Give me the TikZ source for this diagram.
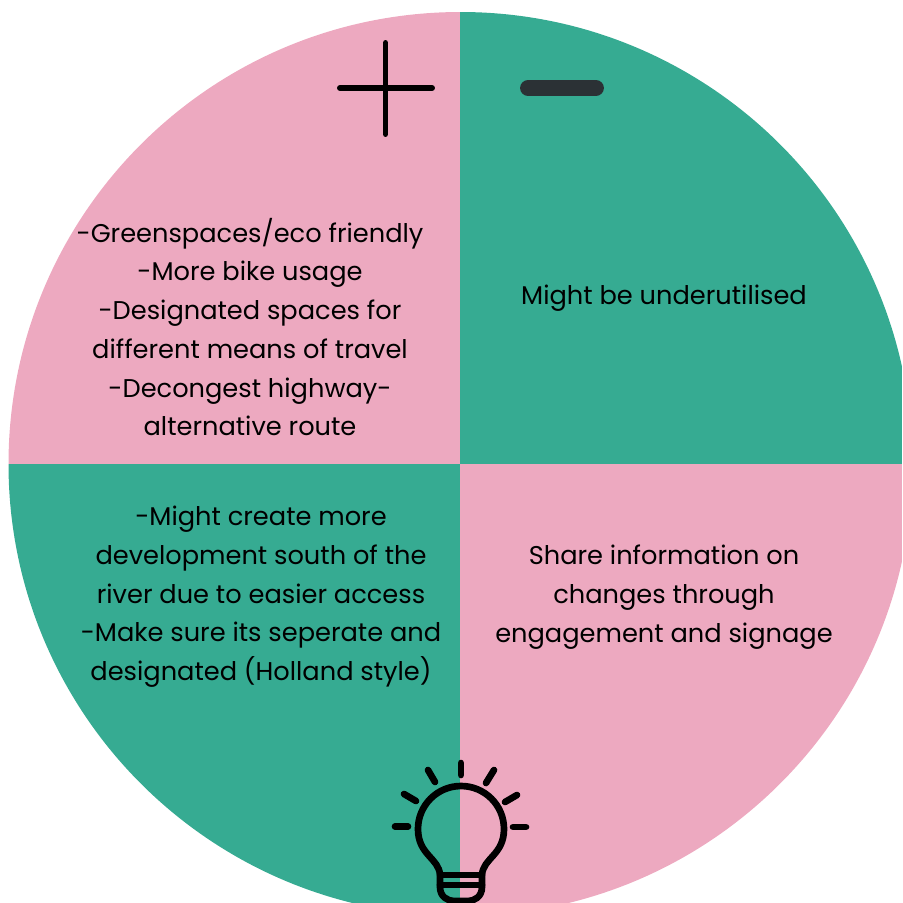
\documentclass[tikz,border=0pt]{standalone}
\usepackage{fontspec}
\setmainfont{Poppins}
\definecolor{pinkq}{HTML}{EDA9C0}
\definecolor{greenq}{HTML}{36AB92}
\definecolor{darkbar}{HTML}{2B3135}
\tikzset{
    note/.style={align=center, text=black, inner sep=0pt, font=\fontsize{7.3pt}{11pt}\selectfont},
    icon/.style={line width=1.7pt, line cap=round, line join=round, black},
    bulbline/.style={line width=1.9pt, line cap=round, line join=round, black}
}
\begin{document}
\begin{tikzpicture}[x=0.01cm, y=-0.01cm]
    \useasboundingbox (0, 0) rectangle (902, 903);
    \begin{scope}
        \clip (0, 0) rectangle (902, 903);
        \clip (460.5, 464) circle [radius=452];
        \fill[pinkq] (0, 0) rectangle (460, 464);
        \fill[greenq] (460, 0) rectangle (902, 464);
        \fill[greenq] (0, 464) rectangle (460, 903);
        \fill[pinkq] (460, 464) rectangle (902, 903);
    \end{scope}
    % plus and minus
    \draw[icon] (385.5, 43)--(385.5, 134);
    \draw[icon] (340, 88)--(432, 88);
    \draw[darkbar, line width=4.5pt, line cap=round] (528, 88)--(596, 88);
    % notes
    \node[note] (pros) at (250, 327) {-Greenspaces/eco friendly\\-More bike usage\\-Designated spaces for\\different means of travel\\-Decongest highway-\\alternative route};
    \node[note] (cons) at (664, 298) {Might be underutilised};
    \node[note] (risks) at (261, 597) {-Might create more\\development south of the\\river due to easier access\\-Make sure its seperate and\\designated (Holland style)};
    \node[note] (ideas) at (664, 597) {Share information on\\changes through\\engagement and signage};
    % bulb
    \begin{scope}
        \clip (0, 0) rectangle (902, 903);
        \draw[bulbline] (440, 875) .. controls (439, 858) and (418, 855) .. (418, 829) arc [start angle=180, end angle=360, radius=43] .. controls (504, 855) and (483, 858) .. (482, 875) -- (482, 887) .. controls (482, 897) and (474, 901) .. (468, 901) -- (454, 901) .. controls (448, 901) and (440, 897) .. (440, 887) -- cycle;
        \draw[bulbline] (440, 875)--(482, 875);
        \draw[bulbline] (440, 885)--(482, 885);
    \end{scope}
    \draw[bulbline] (461, 763)--(461, 775);
    \draw[bulbline] (428, 770)--(435, 782);
    \draw[bulbline] (404, 794)--(416, 801);
    \draw[bulbline] (395, 826.5)--(408, 826.5);
    \draw[bulbline] (494, 770)--(486, 783);
    \draw[bulbline] (517, 795)--(505, 802);
    \draw[bulbline] (513, 827)--(526, 827);
\end{tikzpicture}
\end{document}
